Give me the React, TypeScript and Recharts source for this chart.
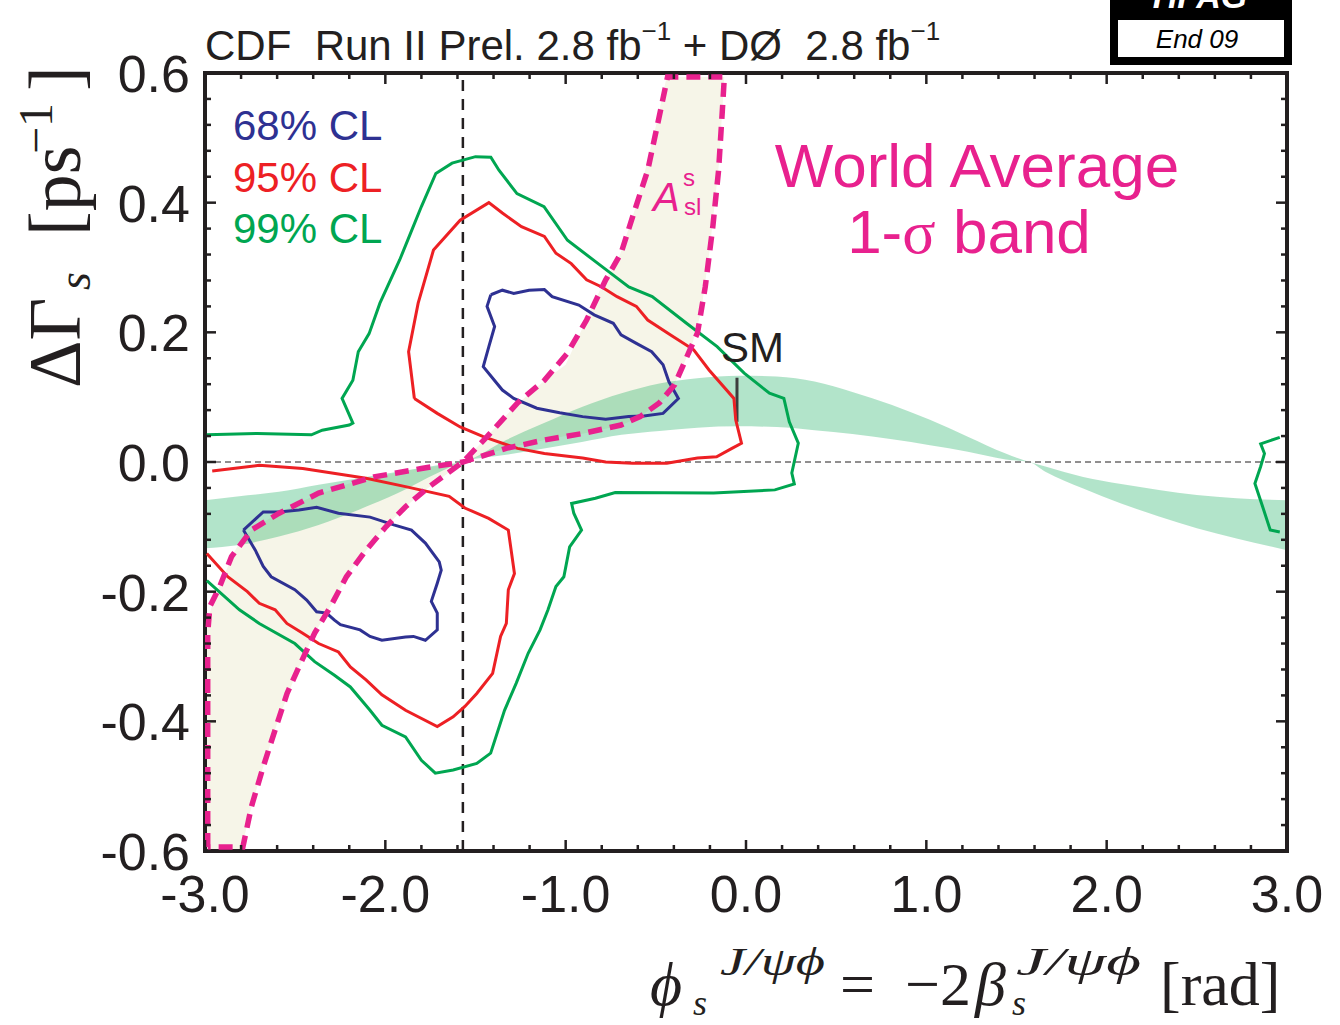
import React from 'react';
import {
  ComposedChart,
  XAxis,
  YAxis,
  Area,
  Scatter,
  ReferenceLine,
  ReferenceArea,
} from 'recharts';

type Pt = [number, number];

const INK = '#231f20';
const BLUE = '#2e3192';
const RED = '#ed2024';
const GREEN = '#00a651';
const MAGENTA = '#e8218e';
const CREAM = '#f6f5e8';

// ticks
const xTicks = [
  -3, -2.8, -2.6, -2.4, -2.2, -2, -1.8, -1.6, -1.4, -1.2, -1, -0.8, -0.6, -0.4, -0.2, 0,
  0.2, 0.4, 0.6, 0.8, 1, 1.2, 1.4, 1.6, 1.8, 2, 2.2, 2.4, 2.6, 2.8, 3,
];
const xMajor = [-3, -2, -1, 0, 1, 2, 3];
const yTicks = [
  -0.6, -0.56, -0.52, -0.48, -0.44, -0.4, -0.36, -0.32, -0.28, -0.24, -0.2, -0.16, -0.12,
  -0.08, -0.04, 0, 0.04, 0.08, 0.12, 0.16, 0.2, 0.24, 0.28, 0.32, 0.36, 0.4, 0.44, 0.48,
  0.52, 0.56, 0.6,
];
const yMajor = [-0.6, -0.4, -0.2, 0, 0.2, 0.4, 0.6];

// 68% CL contours
const blueUpper: Pt[] = [
  [-1.415, 0.258], [-1.351, 0.265], [-1.288, 0.26], [-1.203, 0.265], [-1.118, 0.266],
  [-1.075, 0.255], [-0.927, 0.242], [-0.842, 0.227], [-0.736, 0.214], [-0.693, 0.196],
  [-0.608, 0.183], [-0.523, 0.17], [-0.46, 0.15], [-0.428, 0.124], [-0.375, 0.098],
  [-0.46, 0.075], [-0.566, 0.071], [-0.651, 0.07], [-0.778, 0.066], [-0.906, 0.07],
  [-1.033, 0.076], [-1.16, 0.083], [-1.288, 0.098], [-1.351, 0.111], [-1.457, 0.147],
  [-1.426, 0.178], [-1.394, 0.209], [-1.436, 0.24], [-1.415, 0.258],
];
const blueLower: Pt[] = [
  [-2.787, -0.105], [-2.677, -0.077], [-2.589, -0.077], [-2.479, -0.074], [-2.381, -0.07],
  [-2.26, -0.079], [-2.085, -0.085], [-1.953, -0.097], [-1.855, -0.105], [-1.778, -0.125],
  [-1.701, -0.154], [-1.69, -0.167], [-1.712, -0.187], [-1.745, -0.215], [-1.712, -0.233],
  [-1.712, -0.259], [-1.778, -0.275], [-1.844, -0.269], [-1.888, -0.27], [-2.019, -0.275],
  [-2.085, -0.269], [-2.14, -0.259], [-2.249, -0.251], [-2.282, -0.244], [-2.326, -0.233],
  [-2.381, -0.231], [-2.436, -0.213], [-2.502, -0.197], [-2.633, -0.177], [-2.677, -0.161],
  [-2.721, -0.136], [-2.787, -0.105],
];

// 95% CL contours
const redUpper: Pt[] = [
  [-1.839, 0.098], [-1.871, 0.17], [-1.818, 0.245], [-1.733, 0.327], [-1.585, 0.373],
  [-1.426, 0.4], [-1.351, 0.384], [-1.245, 0.363], [-1.118, 0.348], [-1.054, 0.322],
  [-0.969, 0.306], [-0.884, 0.281], [-0.8, 0.27], [-0.715, 0.255], [-0.608, 0.24],
  [-0.545, 0.219], [-0.418, 0.196], [-0.29, 0.173], [-0.205, 0.142], [-0.067, 0.098],
  [-0.057, 0.065], [-0.025, 0.029], [-0.078, 0.021], [-0.163, 0.008], [-0.269, 0.006],
  [-0.439, -0.002], [-0.629, -0.002], [-0.778, 0.0], [-0.906, 0.006], [-1.118, 0.013],
  [-1.267, 0.021], [-1.457, 0.039], [-1.585, 0.054], [-1.712, 0.075], [-1.839, 0.098],
];
const redLower: Pt[] = [
  [-2.96, -0.014], [-2.699, -0.005], [-2.458, -0.01], [-2.107, -0.025], [-1.888, -0.038],
  [-1.646, -0.053], [-1.559, -0.071], [-1.427, -0.087], [-1.318, -0.105], [-1.284, -0.172],
  [-1.318, -0.197], [-1.329, -0.249], [-1.361, -0.269], [-1.405, -0.326], [-1.493, -0.357],
  [-1.559, -0.377], [-1.624, -0.393], [-1.712, -0.408], [-1.888, -0.383], [-2.019, -0.359],
  [-2.107, -0.336], [-2.194, -0.316], [-2.26, -0.293], [-2.37, -0.28], [-2.458, -0.264],
  [-2.546, -0.249], [-2.611, -0.228], [-2.699, -0.218], [-2.765, -0.2], [-2.874, -0.177],
  [-2.99, -0.141],
];

// 99% CL contours
const greenMain: Pt[] = [
  [-2.99, 0.042], [-2.71, 0.044], [-2.41, 0.042], [-2.35, 0.049], [-2.2, 0.057], [-2.18, 0.06],
  [-2.24, 0.098], [-2.18, 0.126], [-2.15, 0.17], [-2.09, 0.198], [-2.03, 0.245], [-1.92, 0.312],
  [-1.86, 0.353], [-1.8, 0.394], [-1.72, 0.445], [-1.63, 0.461], [-1.5, 0.471], [-1.415, 0.47],
  [-1.37, 0.45], [-1.27, 0.414], [-1.12, 0.394], [-0.99, 0.342], [-0.82, 0.306], [-0.65, 0.27],
  [-0.52, 0.255], [-0.33, 0.214], [-0.16, 0.178], [-0.01, 0.137], [0.13, 0.106], [0.21, 0.098],
  [0.24, 0.062], [0.29, 0.029], [0.254, -0.017], [0.268, -0.034], [0.16, -0.043], [-0.04, -0.046],
  [-0.18, -0.048], [-0.725, -0.047], [-0.835, -0.056], [-0.967, -0.064], [-0.955, -0.079],
  [-0.912, -0.105], [-0.978, -0.131], [-1.01, -0.177], [-1.054, -0.192], [-1.098, -0.228],
  [-1.142, -0.259], [-1.208, -0.295], [-1.274, -0.341], [-1.339, -0.383], [-1.416, -0.449],
  [-1.493, -0.465], [-1.624, -0.475], [-1.723, -0.48], [-1.8, -0.46], [-1.888, -0.424],
  [-2.019, -0.406], [-2.085, -0.383], [-2.194, -0.347], [-2.282, -0.329], [-2.392, -0.308],
  [-2.502, -0.28], [-2.699, -0.249], [-2.809, -0.228], [-2.99, -0.183],
];
const greenEdge: Pt[] = [
  [2.96, 0.038], [2.854, 0.028], [2.875, 0.013], [2.854, -0.007], [2.822, -0.033],
  [2.865, -0.069], [2.907, -0.105], [2.96, -0.108],
];

// world average 1-sigma band
const waX = [
  -3, -2.81, -2.59, -2.37, -2.15, -1.93, -1.71, -1.57, -1.33, -1.12, -0.91, -0.69, -0.48,
  -0.27, -0.04, 0.17, 0.38, 0.59, 0.81, 1.02, 1.23, 1.44, 1.57, 1.66, 1.87, 2.08, 2.29, 2.5,
  2.72, 3,
];
const waLo = [
  -0.133, -0.128, -0.115, -0.097, -0.074, -0.048, -0.017, 0, 0.011, 0.021, 0.031, 0.042, 0.048,
  0.053, 0.055, 0.054, 0.049, 0.043, 0.035, 0.026, 0.016, 0.004, 0, -0.015, -0.041, -0.064,
  -0.084, -0.102, -0.118, -0.136,
];
const waHi = [
  -0.059, -0.053, -0.046, -0.035, -0.025, -0.015, -0.005, 0, 0.034, 0.06, 0.085, 0.106, 0.121,
  0.129, 0.133, 0.132, 0.124, 0.108, 0.088, 0.065, 0.039, 0.013, 0, -0.007, -0.023, -0.034,
  -0.043, -0.051, -0.056, -0.059,
];

// A_sl band
const aslX = [
  -3, -2.95, -2.9, -2.85, -2.8, -2.75, -2.7, -2.6, -2.5, -2.4, -2.3, -2.2, -2.1, -2, -1.9,
  -1.8, -1.7, -1.57, -1.45, -1.3, -1.2, -1.1, -1, -0.9, -0.8, -0.7, -0.6, -0.5, -0.44, -0.4,
  -0.35, -0.3, -0.25, -0.2, -0.15, -0.12,
];
const aslLo = [
  -0.6, -0.6, -0.6, -0.6, -0.6, -0.54, -0.49, -0.403, -0.33, -0.268, -0.221, -0.171, -0.134,
  -0.101, -0.072, -0.048, -0.027, 0, 0.011, 0.023, 0.029, 0.035, 0.04, 0.044, 0.05, 0.056,
  0.068, 0.087, 0.1, 0.118, 0.148, 0.18, 0.23, 0.33, 0.46, 0.594,
];
const aslHi = [
  -0.26, -0.21, -0.18, -0.145, -0.12, -0.107, -0.097, -0.08, -0.066, -0.053, -0.043, -0.033,
  -0.026, -0.021, -0.014, -0.01, -0.006, 0, 0.035, 0.081, 0.106, 0.129, 0.15, 0.211, 0.271,
  0.319, 0.403, 0.518, 0.594, 0.594, 0.594, 0.594, 0.594, 0.594, 0.594, 0.594,
];
const aslOutline: Pt[] = [
  [-2.985, -0.594], [-2.985, -0.264], [-2.973, -0.223], [-2.918, -0.192], [-2.853, -0.146],
  [-2.743, -0.105], [-2.589, -0.079], [-2.37, -0.048], [-2.063, -0.023], [-1.8, -0.01],
  [-1.57, 0], [-1.33, 0.021], [-1.118, 0.034], [-0.906, 0.044], [-0.693, 0.057], [-0.587, 0.07],
  [-0.481, 0.091], [-0.396, 0.119], [-0.311, 0.173], [-0.269, 0.199], [-0.226, 0.27],
  [-0.184, 0.363], [-0.152, 0.45], [-0.131, 0.543], [-0.12, 0.594], [-0.435, 0.594],
  [-0.481, 0.533], [-0.545, 0.45], [-0.629, 0.378], [-0.693, 0.322], [-0.778, 0.281],
  [-0.884, 0.219], [-0.99, 0.168], [-1.118, 0.126], [-1.267, 0.091], [-1.436, 0.039],
  [-1.57, 0], [-1.756, -0.038], [-1.888, -0.069], [-1.997, -0.1], [-2.107, -0.136],
  [-2.216, -0.177], [-2.304, -0.223], [-2.392, -0.264], [-2.479, -0.316], [-2.545, -0.357],
  [-2.611, -0.413], [-2.677, -0.47], [-2.743, -0.532], [-2.79, -0.594], [-2.985, -0.594],
];

// SM point and phi_s = -pi/2 guide
const smX = -0.05;
const smLo = 0.062;
const smHi = 0.13;
const guideX = -1.57;

const toXY = (pts: Pt[]) => pts.map(([x, y]) => ({ x, y }));
const waBand = waX.map((x, i) => ({ x, lo: waLo[i], hi: waHi[i] }));
const aslBand = aslX.map((x, i) => ({ x, lo: aslLo[i], hi: aslHi[i] }));

const SANS = '"Liberation Sans", Arial, Helvetica, sans-serif';
const SERIF = '"Liberation Serif", "Times New Roman", serif';

const BottomTick = (props: any) => {
  const { x, y, payload } = props;
  const major = xMajor.includes(payload.value);
  return (
    <g>
      <line x1={x} y1={y} x2={x} y2={y - (major ? 11 : 6)} stroke={INK} strokeWidth={2.5} />
      {major && (
        <text x={x} y={y + 61} textAnchor="middle" fontFamily={SANS} fontSize={52} fill={INK}>
          {payload.value.toFixed(1)}
        </text>
      )}
    </g>
  );
};

const TopTick = (props: any) => {
  const { x, y, payload } = props;
  const major = xMajor.includes(payload.value);
  return <line x1={x} y1={y} x2={x} y2={y + (major ? 11 : 6)} stroke={INK} strokeWidth={2.5} />;
};

const LeftTick = (props: any) => {
  const { x, y, payload } = props;
  const major = yMajor.includes(payload.value);
  return (
    <g>
      <line x1={x} y1={y} x2={x + (major ? 11 : 6)} y2={y} stroke={INK} strokeWidth={2.5} />
      {major && (
        <text x={x - 15} y={y + 19} textAnchor="end" fontFamily={SANS} fontSize={52} fill={INK}>
          {payload.value.toFixed(1)}
        </text>
      )}
    </g>
  );
};

const RightTick = (props: any) => {
  const { x, y, payload } = props;
  const major = yMajor.includes(payload.value);
  return <line x1={x} y1={y} x2={x - (major ? 11 : 6)} y2={y} stroke={INK} strokeWidth={2.5} />;
};

const noDot = () => <g />;

const Contour = (pts: Pt[], color: string, key: string) => (
  <Scatter
    key={key}
    data={toXY(pts)}
    line={{ stroke: color, strokeWidth: 3 }}
    lineType="joint"
    shape={noDot}
    fill={color}
    legendType="none"
    isAnimationActive={false}
  />
);

export default function App() {
  return (
    <div style={{ position: 'absolute', left: 0, top: 0, width: 1340, height: 1025, background: '#fff' }}>
      <ComposedChart
        width={1340}
        height={1025}
        margin={{ top: 72, right: 52, bottom: 114, left: 105 }}
      >
        <XAxis
          xAxisId={0}
          type="number"
          dataKey="x"
          domain={[-3, 3]}
          ticks={xTicks}
          interval={0}
          allowDataOverflow
          height={60}
          tickSize={0}
          tickMargin={0}
          tickLine={false}
          axisLine={false}
          tick={BottomTick}
        />
        <XAxis
          xAxisId="top"
          orientation="top"
          type="number"
          dataKey="x"
          domain={[-3, 3]}
          ticks={xTicks}
          interval={0}
          allowDataOverflow
          height={1}
          tickSize={0}
          tickMargin={0}
          tickLine={false}
          axisLine={false}
          tick={TopTick}
        />
        <YAxis
          yAxisId={0}
          type="number"
          dataKey="y"
          domain={[-0.6, 0.6]}
          ticks={yTicks}
          interval={0}
          allowDataOverflow
          width={100}
          tickSize={0}
          tickMargin={0}
          tickLine={false}
          axisLine={false}
          tick={LeftTick}
        />
        <YAxis
          yAxisId="right"
          orientation="right"
          type="number"
          dataKey="y"
          domain={[-0.6, 0.6]}
          ticks={yTicks}
          interval={0}
          allowDataOverflow
          width={1}
          tickSize={0}
          tickMargin={0}
          tickLine={false}
          axisLine={false}
          tick={RightTick}
        />

        <Area
          data={aslBand}
          dataKey={(d: any) => [d.lo, d.hi]}
          type="linear"
          stroke="none"
          fill={CREAM}
          fillOpacity={1}
          dot={false}
          activeDot={false}
          isAnimationActive={false}
        />

        <ReferenceLine y={0} stroke={INK} strokeWidth={1.2} strokeDasharray="6 4" />

        {Contour(greenMain, GREEN, 'g1')}
        {Contour(greenEdge, GREEN, 'g2')}
        {Contour(redUpper, RED, 'r1')}
        {Contour(redLower, RED, 'r2')}
        {Contour(blueUpper, BLUE, 'b1')}
        {Contour(blueLower, BLUE, 'b2')}

        <Area
          data={waBand}
          dataKey={(d: any) => [d.lo, d.hi]}
          type="monotone"
          stroke="none"
          fill={GREEN}
          fillOpacity={0.3}
          dot={false}
          activeDot={false}
          isAnimationActive={false}
        />

        <ReferenceLine x={guideX} stroke={INK} strokeWidth={2.5} strokeDasharray="11 8" />
        <ReferenceLine
          segment={[
            { x: smX, y: smLo },
            { x: smX, y: smHi },
          ]}
          stroke="#3d3d3d"
          strokeWidth={3}
        />

        <Scatter
          data={toXY(aslOutline)}
          line={{ stroke: MAGENTA, strokeWidth: 5.5, strokeDasharray: '14 8' }}
          lineType="joint"
          shape={noDot}
          fill={MAGENTA}
          legendType="none"
          isAnimationActive={false}
        />

        <ReferenceArea x1={-3} x2={3} y1={-0.6} y2={0.6} fill="none" stroke={INK} strokeWidth={4} />
      </ComposedChart>

      <svg
        width={1340}
        height={1025}
        style={{ position: 'absolute', left: 0, top: 0, pointerEvents: 'none' }}
      >
        {/* HFAG badge */}
        <rect x={1110} y={-4} width={182} height={69} fill="#000" />
        <rect x={1118} y={20} width={166} height={37} fill="#fff" />
        <text x={1200} y={8} textAnchor="middle" fontFamily={SANS} fontSize={34} fontStyle="italic" fontWeight="bold" fill="#fff">
          HFAG
        </text>
        <text x={1197} y={48} textAnchor="middle" fontFamily={SANS} fontSize={26} fontStyle="italic" fill="#000">
          End 09
        </text>

        {/* title */}
        <text x={205} y={60} fontFamily={SANS} fontSize={42} fill={INK} style={{ whiteSpace: 'pre' }}>
          {'CDF  Run II Prel. 2.8 fb'}
          <tspan dy={-20} fontSize={26}>{'−1'}</tspan>
          <tspan dy={20}>{' + DØ  2.8 fb'}</tspan>
          <tspan dy={-20} fontSize={26}>{'−1'}</tspan>
        </text>

        {/* legend */}
        <text x={233} y={140} fontFamily={SANS} fontSize={42} fill={BLUE}>68% CL</text>
        <text x={233} y={192} fontFamily={SANS} fontSize={42} fill={RED}>95% CL</text>
        <text x={233} y={243} fontFamily={SANS} fontSize={42} fill={GREEN}>99% CL</text>

        {/* world average */}
        <text x={977} y={187} textAnchor="middle" fontFamily={SANS} fontSize={62} fill={MAGENTA}>
          World Average
        </text>
        <text x={969} y={253} textAnchor="middle" fontFamily={SANS} fontSize={62} fill={MAGENTA}>
          {'1-'}
          <tspan fontFamily={SERIF}>σ</tspan>
          {' band'}
        </text>

        {/* A_sl label */}
        <text x={653} y={211} fontFamily={SANS} fontSize={40} fontStyle="italic" fill={MAGENTA}>A</text>
        <text x={683} y={186} fontFamily={SANS} fontSize={24} fill={MAGENTA}>s</text>
        <text x={684} y={215} fontFamily={SANS} fontSize={24} fill={MAGENTA}>sl</text>

        {/* SM */}
        <text x={721} y={362} fontFamily={SANS} fontSize={42} fill={INK}>SM</text>

        {/* y-axis title */}
        <text transform="translate(80,388) rotate(-90)" fontFamily={SERIF} fontSize={74} fill={INK}>
          <tspan x={0} y={0}>ΔΓ</tspan>
          <tspan x={98} y={10} fontSize={46} fontStyle="italic">s</tspan>
          <tspan x={152} y={0}>[ps</tspan>
          <tspan x={234} y={-28} fontSize={48}>−1</tspan>
          <tspan x={297} y={0}>]</tspan>
        </text>

        {/* x-axis title */}
        <text x={650} y={1005} fontFamily={SERIF} fontSize={62} fontStyle="italic" fill={INK}>ϕ</text>
        <text x={693} y={1015} fontFamily={SERIF} fontSize={36} fontStyle="italic" fill={INK}>s</text>
        <text x={720} y={975} fontFamily={SERIF} fontSize={40} fontStyle="italic" fill={INK} textLength={105} lengthAdjust="spacingAndGlyphs">J/ψϕ</text>
        <text x={840} y={1005} fontFamily={SERIF} fontSize={62} fill={INK}>=</text>
        <text x={905} y={1005} fontFamily={SERIF} fontSize={62} fill={INK}>−2</text>
        <text x={975} y={1005} fontFamily={SERIF} fontSize={62} fontStyle="italic" fill={INK}>β</text>
        <text x={1012} y={1015} fontFamily={SERIF} fontSize={36} fontStyle="italic" fill={INK}>s</text>
        <text x={1016} y={975} fontFamily={SERIF} fontSize={40} fontStyle="italic" fill={INK} textLength={125} lengthAdjust="spacingAndGlyphs">J/ψϕ</text>
        <text x={1160} y={1005} fontFamily={SERIF} fontSize={62} fill={INK}>[rad]</text>
      </svg>
    </div>
  );
}
